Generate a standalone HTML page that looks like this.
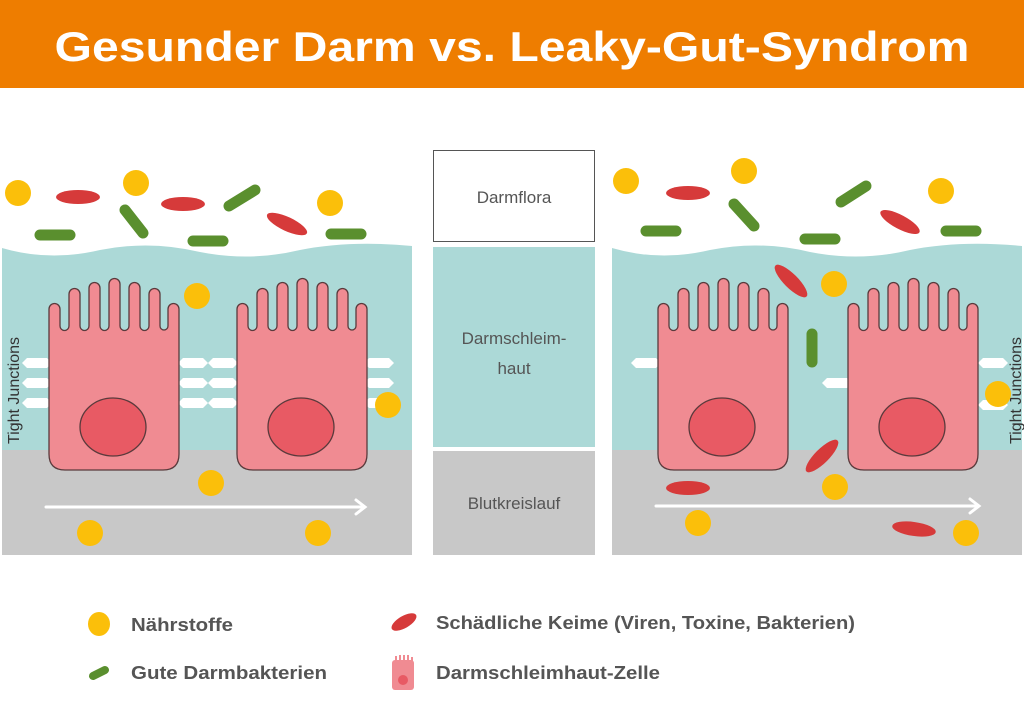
<!DOCTYPE html>
<html><head><meta charset="utf-8"><style>body{margin:0;background:#fff}svg{display:block}</style></head><body>
<svg width="1024" height="722" viewBox="0 0 1024 722" xmlns="http://www.w3.org/2000/svg" font-family="Liberation Sans, sans-serif">
<defs>
<path id="cell" d="M0,170 L0,25 A5.5,5.5 0 0 1 11,25 L11,42 A4.5,4.5 0 0 0 20,42 L20,10 A5.5,5.5 0 0 1 31,10 L31,42 A4.5,4.5 0 0 0 40,42 L40,4 A5.5,5.5 0 0 1 51,4 L51,42 A4.5,4.5 0 0 0 60,42 L60,0 A5.5,5.5 0 0 1 71,0 L71,42 A4.5,4.5 0 0 0 80,42 L80,4 A5.5,5.5 0 0 1 91,4 L91,42 A4.5,4.5 0 0 0 100,42 L100,10 A5.5,5.5 0 0 1 111,10 L111,42 A4,4 0 0 0 119,42 L119,25 A5.5,5.5 0 0 1 130,25 L130,170 Q130,186 114,186 L16,186 Q0,186 0,170 Z" fill="#f08b92" stroke="#5a3a3c" stroke-width="1.3"/>
<g id="nuc"><ellipse cx="64" cy="143" rx="33" ry="29" fill="#e85a64" stroke="#5a3a3c" stroke-width="1.3"/></g>
<path id="tj" d="M0,-5 L20,-5 L25,0 L20,5 L0,5 L-5,0 Z" fill="#fff"/>
</defs>
<rect x="0" y="0" width="1024" height="88" fill="#ee7d00"/>
<text x="512" y="61" text-anchor="middle" font-size="42" font-weight="bold" fill="#fff" textLength="915" lengthAdjust="spacingAndGlyphs">Gesunder Darm vs. Leaky-Gut-Syndrom</text>

<path d="M2,248 Q50,262 100,250 Q150,240 200,252 Q250,262 300,250 Q350,240 412,246 L412,450 L2,450 Z" fill="#acd9d7"/>
<rect x="2" y="450" width="410" height="105" fill="#c8c8c8"/>
<path d="M612,248 Q660,262 710,250 Q760,240 810,252 Q860,262 910,250 Q960,240 1022,246 L1022,450 L612,450 Z" fill="#acd9d7"/>
<rect x="612" y="450" width="410" height="105" fill="#c8c8c8"/>
<rect x="433.5" y="150.5" width="161" height="91" fill="#fff" stroke="#555" stroke-width="1"/>
<rect x="433" y="247" width="162" height="200" fill="#acd9d7"/>
<rect x="433" y="451" width="162" height="104" fill="#c8c8c8"/>
<g font-size="17" fill="#555" text-anchor="middle">
<text x="514" y="203">Darmflora</text>
<text x="514" y="344">Darmschleim-</text>
<text x="514" y="374">haut</text>
<text x="514" y="509">Blutkreislauf</text>
</g>

<use href="#tj" x="27" y="363"/><use href="#tj" x="27" y="383"/><use href="#tj" x="27" y="403"/>
<use href="#tj" x="183" y="363"/><use href="#tj" x="183" y="383"/><use href="#tj" x="183" y="403"/>
<use href="#tj" x="213" y="363"/><use href="#tj" x="213" y="383"/><use href="#tj" x="213" y="403"/>
<use href="#tj" x="369" y="363"/><use href="#tj" x="369" y="383"/><use href="#tj" x="369" y="403"/>
<use href="#tj" x="636" y="363"/><use href="#tj" x="983" y="363"/><use href="#tj" x="827" y="383"/><use href="#tj" x="983" y="405"/>

<g transform="translate(49,284)"><use href="#cell"/><use href="#nuc"/></g>
<g transform="translate(237,284)"><use href="#cell"/><use href="#nuc"/></g>
<g transform="translate(658,284)"><use href="#cell"/><use href="#nuc"/></g>
<g transform="translate(848,284)"><use href="#cell"/><use href="#nuc"/></g>

<g stroke="#fff" stroke-width="3" fill="none" stroke-linecap="round">
<path d="M46,507 L364,507 M356,500 L365,507 L356,514"/>
<path d="M656,506 L978,506 M970,499 L979,506 L970,513"/>
</g>

<text transform="translate(19,444) rotate(-90)" font-size="16" fill="#333">Tight Junctions</text>
<text transform="translate(1021,444) rotate(-90)" font-size="16" fill="#333">Tight Junctions</text>

<g stroke="#5a8f2e" stroke-width="11" stroke-linecap="round">
<line x1="40" y1="235" x2="70" y2="235"/>
<line x1="125" y1="210" x2="143" y2="233"/>
<line x1="193" y1="241" x2="223" y2="241"/>
<line x1="229" y1="206" x2="255" y2="190"/>
<line x1="331" y1="234" x2="361" y2="234"/>
<line x1="646" y1="231" x2="676" y2="231"/>
<line x1="734" y1="204" x2="754" y2="226"/>
<line x1="805" y1="239" x2="835" y2="239"/>
<line x1="841" y1="202" x2="866" y2="186"/>
<line x1="946" y1="231" x2="976" y2="231"/>
<line x1="812" y1="334" x2="812" y2="362"/>
</g>
<g fill="#d63a3a">
<ellipse cx="78" cy="197" rx="22" ry="7"/>
<ellipse cx="183" cy="204" rx="22" ry="7"/>
<ellipse cx="287" cy="224" rx="22" ry="7" transform="rotate(25 287 224)"/>
<ellipse cx="688" cy="193" rx="22" ry="7"/>
<ellipse cx="900" cy="222" rx="22" ry="7" transform="rotate(28 900 222)"/>
<ellipse cx="791" cy="281" rx="22" ry="7" transform="rotate(45 791 281)"/>
<ellipse cx="822" cy="456" rx="22" ry="7" transform="rotate(-45 822 456)"/>
<ellipse cx="688" cy="488" rx="22" ry="7"/>
<ellipse cx="914" cy="529" rx="22" ry="7" transform="rotate(8 914 529)"/>
<ellipse cx="404" cy="622" rx="14" ry="6" transform="rotate(-30 404 622)"/>
</g>
<g fill="#fbbf0a">
<circle cx="18" cy="193" r="13"/><circle cx="136" cy="183" r="13"/><circle cx="330" cy="203" r="13"/>
<circle cx="197" cy="296" r="13"/><circle cx="388" cy="405" r="13"/><circle cx="211" cy="483" r="13"/>
<circle cx="90" cy="533" r="13"/><circle cx="318" cy="533" r="13"/>
<circle cx="626" cy="181" r="13"/><circle cx="744" cy="171" r="13"/><circle cx="941" cy="191" r="13"/>
<circle cx="834" cy="284" r="13"/><circle cx="998" cy="394" r="13"/><circle cx="835" cy="487" r="13"/>
<circle cx="698" cy="523" r="13"/><circle cx="966" cy="533" r="13"/>
<ellipse cx="99" cy="624" rx="11" ry="12"/>
</g>

<line x1="93" y1="676" x2="105" y2="670" stroke="#5a8f2e" stroke-width="8" stroke-linecap="round"/>
<rect x="392" y="660" width="22" height="30" rx="3" fill="#f08b92"/>
<g stroke="#f08b92" stroke-width="2"><line x1="396" y1="656" x2="396" y2="662"/><line x1="400" y1="655" x2="400" y2="662"/><line x1="404" y1="655" x2="404" y2="662"/><line x1="408" y1="655" x2="408" y2="662"/><line x1="412" y1="657" x2="412" y2="662"/></g>
<circle cx="403" cy="680" r="5" fill="#e85a64"/>
<g font-size="18" font-weight="bold" fill="#555">
<text x="131" y="631" textLength="102" lengthAdjust="spacingAndGlyphs">Nährstoffe</text>
<text x="131" y="679" textLength="196" lengthAdjust="spacingAndGlyphs">Gute Darmbakterien</text>
<text x="436" y="629" textLength="419" lengthAdjust="spacingAndGlyphs">Schädliche Keime (Viren, Toxine, Bakterien)</text>
<text x="436" y="679" textLength="224" lengthAdjust="spacingAndGlyphs">Darmschleimhaut-Zelle</text>
</g>
</svg>
</body></html>
